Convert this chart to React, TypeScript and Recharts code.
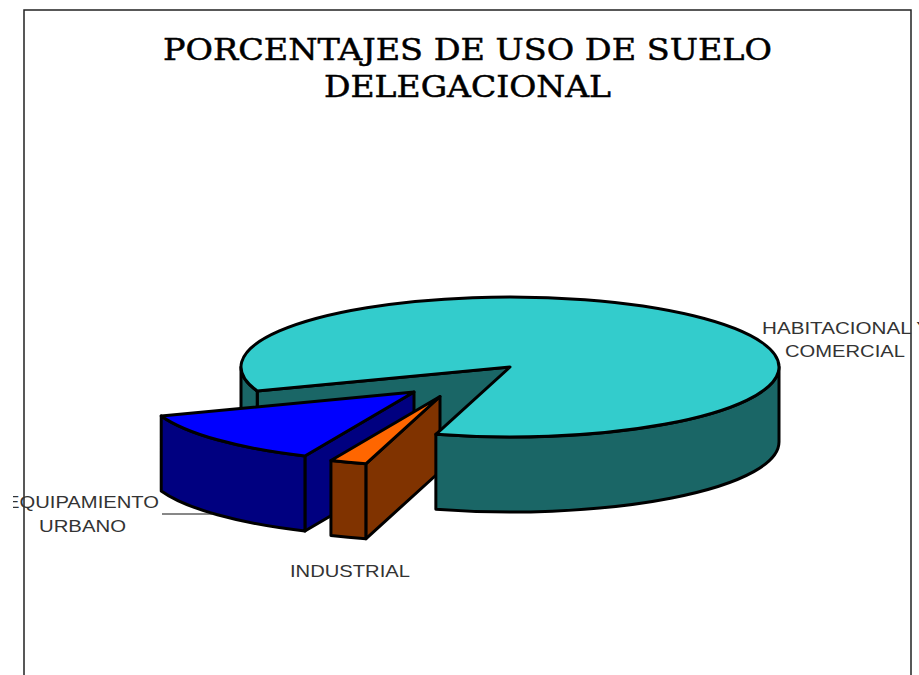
import React from "react";
import { PieChart, Pie } from "recharts";

const categories = ["HABITACIONAL Y COMERCIAL", "EQUIPAMIENTO URBANO", "INDUSTRIAL"];
const values = [85.0, 12.8, 2.2];
const labelLines = [
  ["HABITACIONAL Y", "COMERCIAL"],
  ["EQUIPAMIENTO", "URBANO"],
  ["INDUSTRIAL"],
];
const titleLines = ["PORCENTAJES DE USO DE SUELO", "DELEGACIONAL"];

const data = categories.map((name, i) => ({ name, value: values[i] }));

const W = 919;
const H = 675;
const CX = 510;
const CY = 367;
const RX = 269;
const RY = 70;
const DEPTH = 75;

const looks = [
  { top: "#33CCCC", side: "#1A6666", dx: 0, dy: 0 },
  { top: "#0000FF", side: "#000080", dx: -96, dy: 25 },
  { top: "#FF6600", side: "#803300", dx: -70, dy: 29.5 },
];

const labelBoxes = [
  [
    { cx: 846, y: 334, w: 168 },
    { cx: 845, y: 357, w: 120 },
  ],
  [
    { cx: 82.5, y: 508, w: 153 },
    { cx: 82.5, y: 532, w: 87 },
  ],
  [{ cx: 350, y: 577, w: 120 }],
];

const rad = (d: number) => (d * Math.PI) / 180;

// layer "back": cut faces, walls and tops, except the main slice's front wall and top.
// layer "front": the main slice's front wall and top, painted over the exploded slices.
function Slice3D(props: any) {
  const { cx, cy, outerRadius, startAngle, endAngle, index, layer } = props;
  const i = index;
  if (layer === "front" && i !== 0) return <g />;
  const look = looks[i];
  const ox = cx + look.dx;
  const oy = cy + look.dy;
  const ry = outerRadius * (RY / RX);
  const lo = Math.min(-startAngle, -endAngle);
  const hi = Math.max(-startAngle, -endAngle);
  const P = (t: number, d = 0) => ({
    x: ox + outerRadius * Math.cos(rad(t)),
    y: oy + ry * Math.sin(rad(t)) + d,
  });
  const arc = (b: number, large: boolean, sweep: number, d = 0) => {
    const p = P(b, d);
    return `A${outerRadius},${ry} 0 ${large ? 1 : 0} ${sweep} ${p.x},${p.y}`;
  };
  const walls: { d: string; front: boolean }[] = [];
  for (let k = -2; k <= 1; k++) {
    const a = Math.max(lo, 360 * k);
    const b = Math.min(hi, 360 * k + 180);
    if (b > a) {
      const s = P(a);
      const e = P(b, DEPTH);
      walls.push({
        d: `M${s.x},${s.y} ${arc(b, false, 1)} L${e.x},${e.y} ${arc(a, false, 0, DEPTH)} Z`,
        front: k === 0,
      });
    }
  }
  const face = (t: number) => {
    const p = P(t);
    return `M${ox},${oy} L${p.x},${p.y} L${p.x},${p.y + DEPTH} L${ox},${oy + DEPTH} Z`;
  };
  const faces: string[] = [];
  if (Math.sin(rad(lo - 90)) > 0) faces.push(face(lo));
  if (Math.sin(rad(hi + 90)) > 0) faces.push(face(hi));
  const s = P(lo);
  const top = `M${ox},${oy} L${s.x},${s.y} ${arc(hi, hi - lo > 180, 1)} Z`;
  const common = { stroke: "#000", strokeWidth: 3, strokeLinejoin: "round" as const };
  const isMain = i === 0;
  if (layer === "front") {
    return (
      <g>
        {walls
          .filter((w) => w.front)
          .map((w, n) => (
            <path key={"w" + n} d={w.d} fill={look.side} {...common} />
          ))}
        <path d={top} fill={look.top} {...common} />
      </g>
    );
  }
  return (
    <g>
      {faces.map((d, n) => (
        <path key={"f" + n} d={d} fill={look.side} {...common} />
      ))}
      {walls
        .filter((w) => !(isMain && w.front))
        .map((w, n) => (
          <path key={"w" + n} d={w.d} fill={look.side} {...common} />
        ))}
      {!isMain && <path d={top} fill={look.top} {...common} />}
    </g>
  );
}

function SliceLabel(props: any) {
  const i = props.index;
  const lines = labelLines[i];
  return (
    <g clipPath="url(#pageClip)">
      {i === 1 && <line x1={162} y1={514} x2={213} y2={514} stroke="#111" strokeWidth={1} />}
      {lines.map((t, n) => {
        const b = labelBoxes[i][n];
        return (
          <text
            key={t}
            x={b.cx - b.w / 2}
            y={b.y}
            textLength={b.w}
            lengthAdjust="spacingAndGlyphs"
            fontFamily="Liberation Sans"
            fontSize={16.5}
            fill="#333"
          >
            {t}
          </text>
        );
      })}
    </g>
  );
}

const backShape = (p: any) => <Slice3D {...p} layer="back" />;
const frontShape = (p: any) => <Slice3D {...p} layer="front" />;

export default function App() {
  const pieProps = {
    data,
    dataKey: "value",
    nameKey: "name",
    cx: CX,
    cy: CY,
    innerRadius: 0,
    outerRadius: RX,
    startAngle: -106,
    endAngle: 254,
    paddingAngle: 0,
    isAnimationActive: false,
  };
  return (
    <div style={{ position: "absolute", left: 0, top: 0, width: W, height: H, background: "#fff", overflow: "hidden" }}>
      <PieChart width={W} height={H} margin={{ top: 0, right: 0, bottom: 0, left: 0 }}>
        <defs>
          <clipPath id="pageClip">
            <rect x={13} y={0} width={W} height={H} />
          </clipPath>
        </defs>
        <path d={`M24,${H} L24,10 L911,10 L911,${H}`} fill="none" stroke="#222" strokeWidth={1.5} />
        {titleLines.map((t, n) => (
          <text
            key={t}
            x={n === 0 ? 163 : 324}
            y={n === 0 ? 60 : 97}
            textLength={n === 0 ? 609 : 287}
            lengthAdjust="spacingAndGlyphs"
            fontFamily="DejaVu Serif"
            fontSize={30}
            fill="#000"
            stroke="#000"
            strokeWidth={0.5}
          >
            {t}
          </text>
        ))}
        <Pie {...pieProps} shape={backShape} label={SliceLabel} labelLine={false} />
        <Pie {...pieProps} shape={frontShape} label={false} labelLine={false} />
      </PieChart>
    </div>
  );
}
